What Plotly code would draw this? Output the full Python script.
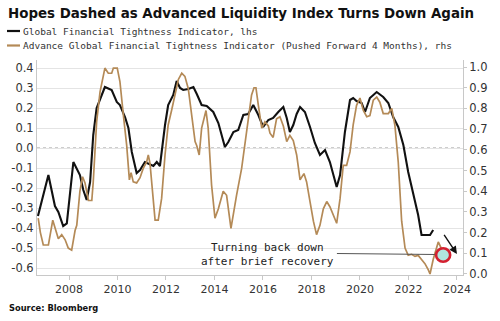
import plotly.graph_objects as go

# ---------------- data ----------------
black_years = [2006.72, 2007.15, 2007.42, 2007.56, 2007.76, 2007.91, 2008.18, 2008.32, 2008.45, 2008.59,
               2008.73, 2008.87, 2009.0, 2009.14, 2009.35, 2009.48, 2009.76, 2009.97, 2010.1, 2010.31,
               2010.45, 2010.59, 2010.79, 2010.93, 2011.13, 2011.34, 2011.48, 2011.62, 2011.75, 2011.96,
               2012.09, 2012.3, 2012.44, 2012.58, 2012.71, 2012.92, 2013.13, 2013.27, 2013.47, 2013.68,
               2013.95, 2014.16, 2014.3, 2014.43, 2014.57, 2014.78, 2014.98, 2015.19, 2015.39, 2015.6,
               2015.81, 2016.01, 2016.22, 2016.42, 2016.63, 2016.84, 2016.98, 2017.11, 2017.25, 2017.39,
               2017.53, 2017.73, 2017.94, 2018.14, 2018.35, 2018.56, 2018.76, 2019.04, 2019.18, 2019.38,
               2019.59, 2019.72, 2019.86, 2020.07, 2020.21, 2020.41, 2020.69, 2020.96, 2021.17, 2021.37,
               2021.58, 2021.79, 2021.99, 2022.2, 2022.4, 2022.54, 2022.89, 2023.02]
black_vals = [-0.34, -0.135, -0.29, -0.32, -0.39, -0.377, -0.07, -0.1, -0.135, -0.21,
              -0.26, -0.17, 0.065, 0.2, 0.27, 0.305, 0.29, 0.23, 0.215, 0.155,
              0.1, -0.02, -0.125, -0.11, -0.07, -0.08, -0.09, -0.07, -0.09, 0.115,
              0.215, 0.265, 0.335, 0.3, 0.29, 0.295, 0.305, 0.27, 0.215, 0.21,
              0.18, 0.125, 0.055, 0.005, 0.03, 0.08, 0.09, 0.165, 0.17, 0.215,
              0.165, 0.105, 0.14, 0.15, 0.18, 0.205, 0.15, 0.08, 0.115, 0.17,
              0.205, 0.18, 0.105, 0.025, -0.035, -0.01, -0.07, -0.195, -0.135, 0.08,
              0.24, 0.25, 0.235, 0.225, 0.18, 0.25, 0.28, 0.255, 0.225, 0.155,
              0.105, 0.015, -0.12, -0.235, -0.335, -0.435, -0.435, -0.41]

tan_years = [2006.73, 2006.82, 2006.94, 2007.15, 2007.33, 2007.49, 2007.56, 2007.7, 2007.84, 2007.97,
             2008.11, 2008.25, 2008.32, 2008.45, 2008.56, 2008.66, 2008.8, 2008.94, 2009.0, 2009.14,
             2009.28, 2009.48, 2009.62, 2009.76, 2009.83, 2009.99, 2010.1, 2010.24, 2010.38, 2010.49,
             2010.56, 2010.65, 2010.79, 2010.93, 2011.06, 2011.2, 2011.27, 2011.34, 2011.48, 2011.55,
             2011.68, 2011.82, 2011.96, 2012.09, 2012.23, 2012.37, 2012.51, 2012.65, 2012.78, 2012.92,
             2013.06, 2013.2, 2013.27, 2013.37, 2013.47, 2013.65, 2013.74, 2013.88, 2014.02, 2014.16,
             2014.36, 2014.5, 2014.68, 2014.85, 2014.91, 2015.12, 2015.26, 2015.39, 2015.53, 2015.63,
             2015.71, 2015.81, 2015.95, 2016.08, 2016.22, 2016.29, 2016.42, 2016.56, 2016.7, 2016.84,
             2016.98, 2017.11, 2017.25, 2017.39, 2017.53, 2017.69, 2017.8, 2017.94, 2018.08, 2018.21,
             2018.35, 2018.49, 2018.63, 2018.76, 2018.9, 2019.04, 2019.18, 2019.31, 2019.45, 2019.59,
             2019.72, 2019.86, 2020.0, 2020.14, 2020.28, 2020.41, 2020.55, 2020.69, 2020.82, 2020.96,
             2021.17, 2021.31, 2021.44, 2021.58, 2021.72, 2021.86, 2021.99, 2022.13, 2022.27, 2022.4,
             2022.54, 2022.68, 2022.82, 2022.89, 2023.02, 2023.16, 2023.23, 2023.37]
tan_vals = [0.27, 0.2, 0.14, 0.14, 0.26, 0.205, 0.17, 0.19, 0.165, 0.125,
            0.115, 0.21, 0.235, 0.4, 0.47, 0.44, 0.355, 0.355, 0.445, 0.735,
            0.88, 0.995, 0.97, 0.97, 0.995, 0.995, 0.93, 0.77, 0.62, 0.455,
            0.49, 0.445, 0.44, 0.465, 0.51, 0.54, 0.575, 0.535, 0.365, 0.26,
            0.26, 0.365, 0.575, 0.72, 0.79, 0.865, 0.94, 0.97, 0.955, 0.895,
            0.77, 0.64, 0.62, 0.575, 0.705, 0.79, 0.705, 0.43, 0.27, 0.315,
            0.4, 0.38, 0.22, 0.35, 0.38, 0.51, 0.64, 0.735, 0.865, 0.9,
            0.9, 0.815, 0.705, 0.735, 0.715, 0.68, 0.66, 0.75, 0.76, 0.715,
            0.64, 0.67, 0.645, 0.575, 0.455, 0.485, 0.445, 0.35, 0.255, 0.19,
            0.235, 0.315, 0.35, 0.325, 0.285, 0.245, 0.365, 0.525, 0.525, 0.59,
            0.72, 0.815, 0.85, 0.79, 0.76, 0.765, 0.84, 0.855, 0.83, 0.775,
            0.775, 0.8, 0.72, 0.54, 0.255, 0.125, 0.09, 0.095, 0.085, 0.09,
            0.07, 0.05, 0.02, 0.0, 0.07, 0.13, 0.155, 0.12]

x_ticks = [2008, 2010, 2012, 2014, 2016, 2018, 2020, 2022, 2024]
left_ticks = [0.4, 0.3, 0.2, 0.1, 0.0, -0.1, -0.2, -0.3, -0.4, -0.5, -0.6]
right_ticks = [1.0, 0.9, 0.8, 0.7, 0.6, 0.5, 0.4, 0.3, 0.2, 0.1, 0.0]

title = "Hopes Dashed as Advanced Liquidity Index Turns Down Again"
name_black = "Global Financial Tightness Indicator, lhs"
name_tan = "Advance Global Financial Tightness Indicator (Pushed Forward 4 Months), rhs"
source = "Source: Bloomberg"
note = "Turning back down<br>after brief recovery"

BLACK = "#111111"
TAN = "#b48a57"

# ---------------- layout geometry (pixels) ----------------
W, H = 500, 321
L, R, T, B = 37, 463, 60, 275


def px(xp):
    return (xp - L) / (R - L)


def py(yp):
    return (B - yp) / (B - T)


fig = go.Figure()
fig.add_trace(go.Scatter(x=tan_years, y=tan_vals, mode="lines", yaxis="y2",
                         line=dict(color=TAN, width=1.7), name=name_tan, showlegend=False))
fig.add_trace(go.Scatter(x=black_years, y=black_vals, mode="lines",
                         line=dict(color=BLACK, width=2.1), name=name_black, showlegend=False))

tickfont = dict(family="DejaVu Sans", size=11.5, color="#333333")

fig.update_layout(
    width=W, height=H,
    margin=dict(l=L, r=W - R, t=T, b=H - B),
    paper_bgcolor="white", plot_bgcolor="white",
    xaxis=dict(range=[2006.68, 2024.25], tickvals=x_ticks, ticktext=[str(v) for v in x_ticks],
               showgrid=False, zeroline=False, showline=True, linecolor="#c8c8c8", linewidth=1,
               ticks="outside", ticklen=4, tickcolor="#c8c8c8",
               tickfont=dict(family="DejaVu Sans", size=11, color="#333333")),
    yaxis=dict(range=[-0.635, 0.44], tickvals=left_ticks, ticktext=[f"{v:.1f}" for v in left_ticks],
               showgrid=True, gridcolor="#e4e4e4", gridwidth=1, zeroline=False,
               showline=True, linecolor="#c8c8c8", linewidth=1, ticks="", tickfont=tickfont),
    yaxis2=dict(range=[-0.005, 1.034], tickvals=right_ticks, ticktext=[f"{v:.1f}" for v in right_ticks],
                overlaying="y", side="right", showgrid=False, zeroline=False,
                showline=True, linecolor="#c8c8c8", linewidth=1, ticks="outside", ticklen=3,
                tickcolor="#c8c8c8", tickfont=tickfont),
)

# dashed zero line
fig.add_shape(type="line", xref="paper", yref="y", x0=0, x1=1, y0=0, y1=0,
              line=dict(color="#9a9a9a", width=1, dash="3px,3px"), layer="below")

# title
fig.add_annotation(xref="paper", yref="paper", x=px(6), y=py(13), xanchor="left", yanchor="middle",
                   text="<b>" + title + "</b>", showarrow=False,
                   font=dict(family="DejaVu Sans", size=13.4, color="#111111"))

# legend (manual)
for yy, col, txt in [(31, BLACK, name_black), (45.5, TAN, name_tan)]:
    fig.add_shape(type="line", xref="paper", yref="paper", x0=px(7), x1=px(20), y0=py(yy), y1=py(yy),
                  line=dict(color=col, width=2.2))
    fig.add_annotation(xref="paper", yref="paper", x=px(21), y=py(yy), xanchor="left", yanchor="middle",
                       text=txt, showarrow=False,
                       font=dict(family="DejaVu Sans Mono", size=9.5, color="#333333"))

# source
fig.add_annotation(xref="paper", yref="paper", x=px(7), y=py(308), xanchor="left", yanchor="middle",
                   text="<b>" + source + "</b>", showarrow=False,
                   font=dict(family="DejaVu Sans", size=8.3, color="#111111"))

# note text
fig.add_annotation(xref="paper", yref="paper", x=px(267), y=py(254), xanchor="center", yanchor="middle",
                   text=note, showarrow=False,
                   font=dict(family="DejaVu Sans Mono", size=11, color="#222222"))

# pointer line from note to the circle
fig.add_shape(type="line", xref="x", yref="y", x0=2019.05, y0=-0.5275, x1=2023.18, y1=-0.5325,
              line=dict(color="#555555", width=1))

# arrow showing direction
fig.add_annotation(xref="x", yref="y", axref="x", ayref="y",
                   x=2024.0, y=-0.53, ax=2023.43, ay=-0.427, text="", showarrow=True,
                   arrowhead=2, arrowsize=1.1, arrowwidth=1.4, arrowcolor="#111111")

# red circle highlight
fig.add_shape(type="circle", xref="x", yref="y",
              x0=2023.43 - 0.29, x1=2023.43 + 0.29, y0=-0.535 - 0.034, y1=-0.535 + 0.034,
              line=dict(color="#d42030", width=2.6), fillcolor="rgba(150,220,212,0.75)")

fig.write_html("out.html")
